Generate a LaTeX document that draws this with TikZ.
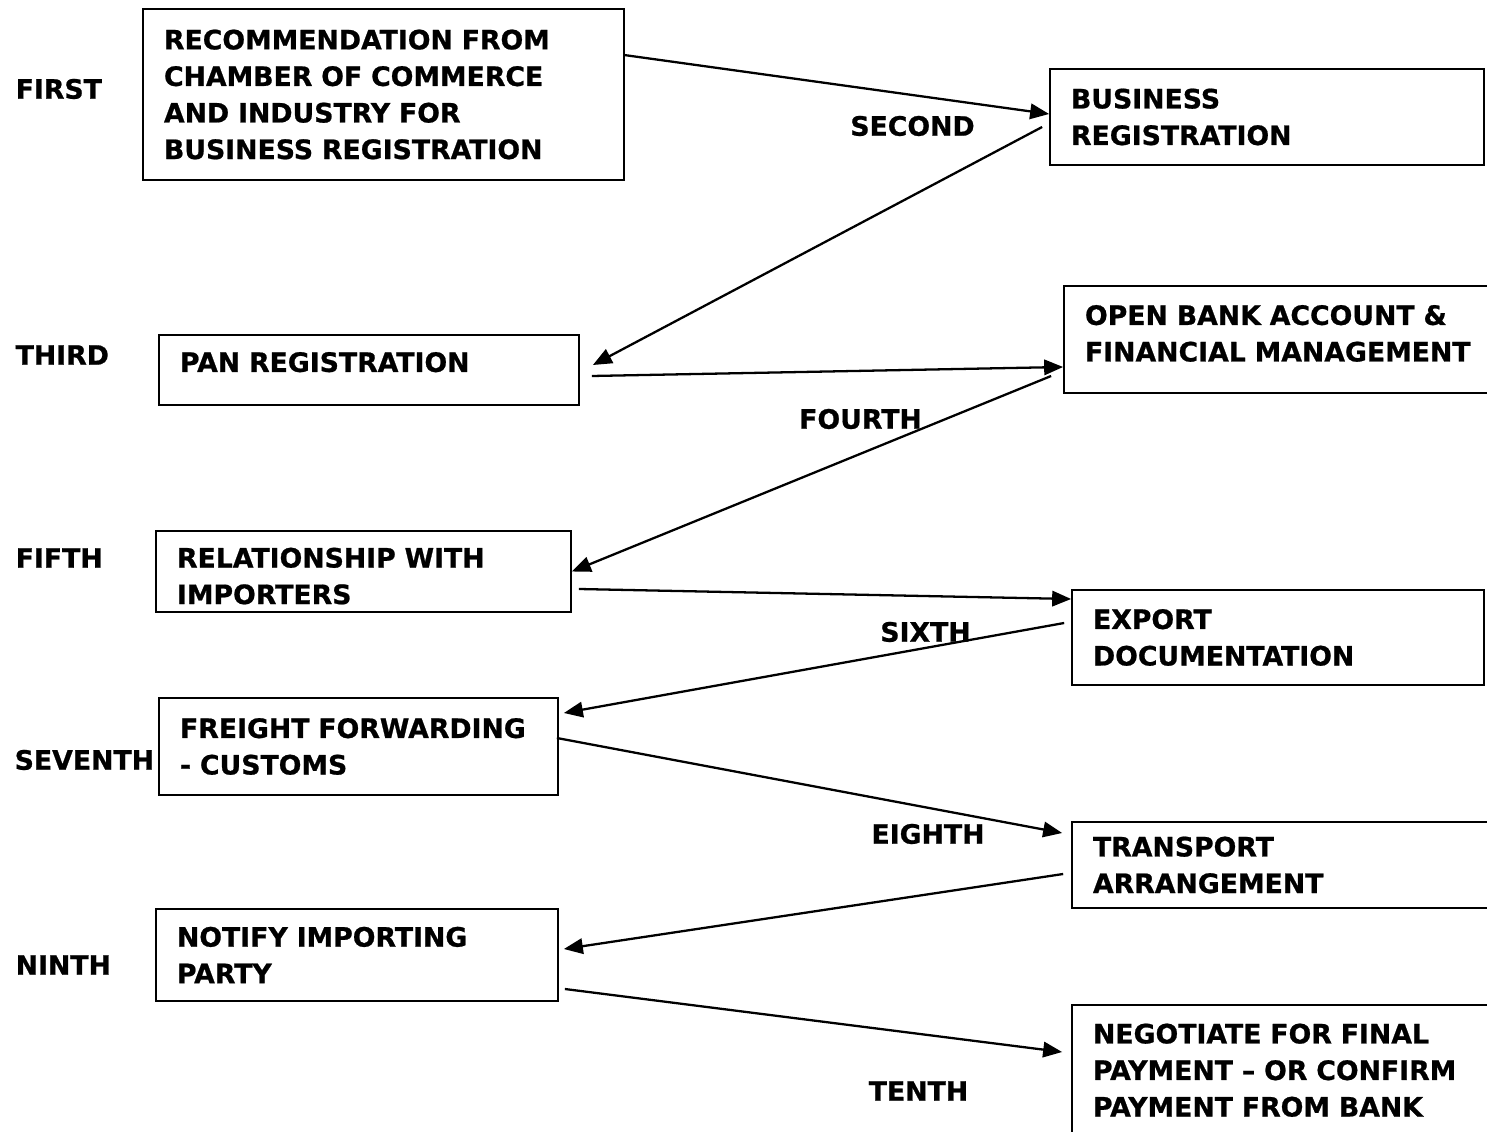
\documentclass[tikz,border=0pt]{standalone}
\usepackage{fontspec}
\setmainfont{DejaVu Sans}[BoldFeatures={FakeBold=0.8}]
\usetikzlibrary{arrows.meta}

\begin{document}
\begin{tikzpicture}[
stagebox/.style={draw, line width=0.5pt, inner xsep=0.21cm, inner ysep=0pt, align=left,
  font=\fontsize{7.6}{10.4}\selectfont\bfseries},
lbl/.style={inner sep=0pt, font=\fontsize{7.6}{10.4}\selectfont\bfseries},
arr/.style={line width=0.65pt, -{Triangle[length=5.4pt, width=4.4pt]}}
]

% page
\useasboundingbox (0,0) rectangle (14.87,11.31);
\clip (0,0) rectangle (14.87,11.31);

% ---------- LEFT COLUMN ----------
\node[stagebox, text width=4.39cm, minimum height=1.71cm] (rec) at (3.835,10.365)
  {RECOMMENDATION FROM\\CHAMBER OF COMMERCE\\AND INDUSTRY FOR\\BUSINESS REGISTRATION};
\node[stagebox, text width=3.78cm, minimum height=0.70cm, text depth=0.16cm] (pan) at (3.69,7.61)
  {PAN REGISTRATION};
\node[stagebox, text width=3.73cm, minimum height=0.81cm, text height=0.29cm] (rel) at (3.635,5.595)
  {RELATIONSHIP WITH\\IMPORTERS};
\node[stagebox, text width=3.57cm, minimum height=0.97cm] (frt) at (3.585,3.845)
  {FREIGHT FORWARDING\\- CUSTOMS};
\node[stagebox, text width=3.60cm, minimum height=0.92cm] (ntf) at (3.57,1.76)
  {NOTIFY IMPORTING\\PARTY};

% ---------- RIGHT COLUMN ----------
\node[stagebox, text width=3.92cm, minimum height=0.96cm] (breg) at (12.67,10.14)
  {BUSINESS\\REGISTRATION};
\node[stagebox, text width=3.89cm, minimum height=1.07cm, text depth=0.49cm] (bank) at (12.795,7.915)
  {OPEN BANK ACCOUNT \&\\FINANCIAL MANAGEMENT};
\node[stagebox, text width=3.70cm, minimum height=0.95cm] (expd) at (12.78,4.935)
  {EXPORT\\DOCUMENTATION};
\node[stagebox, text width=3.81cm, minimum height=0.86cm] (trn) at (12.835,2.66)
  {TRANSPORT\\ARRANGEMENT};
\node[stagebox, text width=3.81cm, minimum height=1.40cm, text depth=0.83cm] (neg) at (12.835,0.56)
  {NEGOTIATE FOR FINAL\\PAYMENT – OR CONFIRM\\PAYMENT FROM BANK};

% step labels
\node[lbl, anchor=west] (l1) at (0.15,10.42) {FIRST};
\node[lbl] (l2) at (9.125,10.05) {SECOND};
\node[lbl, anchor=west] (l3) at (0.15,7.76) {THIRD};
\node[lbl] (l4) at (8.605,7.12) {FOURTH};
\node[lbl, anchor=west] (l5) at (0.15,5.73) {FIFTH};
\node[lbl] (l6) at (9.255,4.99) {SIXTH};
\node[lbl, anchor=west] (l7) at (0.14,3.71) {SEVENTH};
\node[lbl] (l8) at (9.28,2.97) {EIGHTH};
\node[lbl, anchor=west] (l9) at (0.15,1.66) {NINTH};
\node[lbl] (l10) at (9.185,0.40) {TENTH};

% connections
\draw[arr] ([yshift=-4.7mm]rec.north east) -- ([yshift=0.3mm]breg.west);
\draw[arr] ([xshift=-0.7mm,yshift=-1mm]breg.west) -- ([xshift=1.3mm,yshift=0.5mm]pan.east);
\draw[arr] ([xshift=1.2mm,yshift=-0.6mm]pan.east) -- ([yshift=-2.75mm]bank.west);
\draw[arr] ([xshift=-1.2mm,yshift=-3.65mm]bank.west) -- (rel.east);
\draw[arr] ([xshift=0.7mm,yshift=-1.75mm]rel.east) -- ([yshift=3.85mm]expd.west);
\draw[arr] ([xshift=-0.7mm,yshift=1.45mm]expd.west) -- ([xshift=0.5mm,yshift=3.35mm]frt.east);
\draw[arr] ([xshift=-0.2mm,yshift=0.85mm]frt.east) -- ([xshift=-0.9mm,yshift=3.2mm]trn.west);
\draw[arr] ([xshift=-0.8mm,yshift=-0.9mm]trn.west) -- ([xshift=0.5mm,yshift=0.6mm]ntf.east);
\draw[arr] ([xshift=0.6mm,yshift=-3.4mm]ntf.east) -- ([xshift=-0.9mm,yshift=2.3mm]neg.west);

\end{tikzpicture}
\end{document}
